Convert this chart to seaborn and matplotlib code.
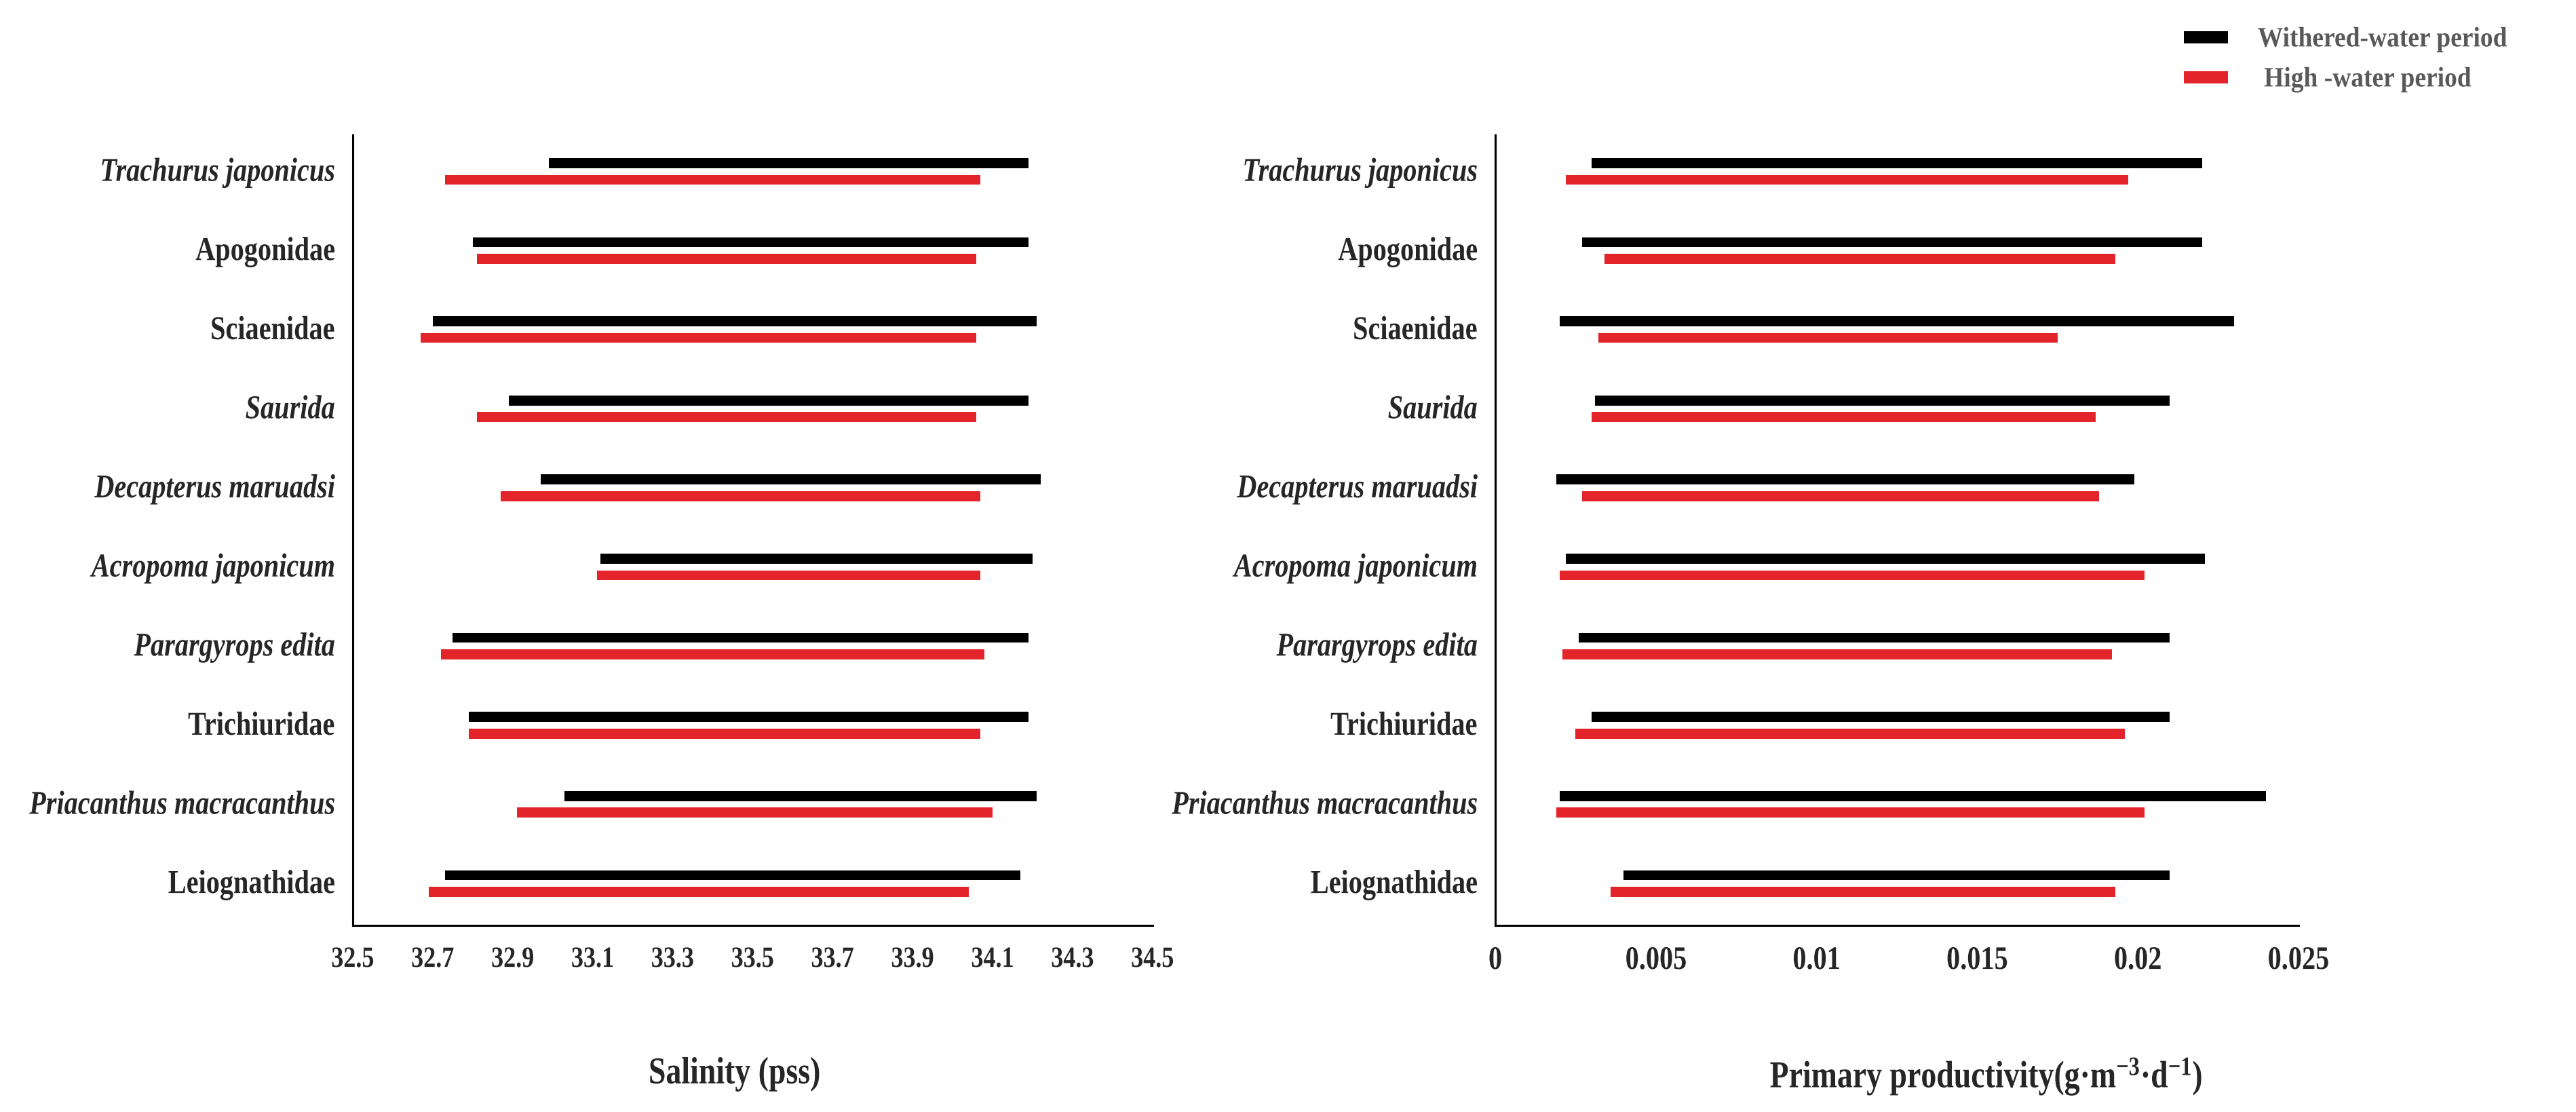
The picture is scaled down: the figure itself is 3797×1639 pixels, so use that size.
import numpy as np
import pandas as pd
import seaborn as sns
import matplotlib.pyplot as plt
from matplotlib.patches import Patch
from matplotlib.patheffects import AbstractPathEffect
from matplotlib.transforms import Affine2D

# species on the y axis, top to bottom
species = ["Trachurus japonicus", "Apogonidae", "Sciaenidae", "Saurida",
           "Decapterus maruadsi", "Acropoma japonicum", "Parargyrops edita",
           "Trichiuridae", "Priacanthus macracanthus", "Leiognathidae"]
italic_names = ["Trachurus japonicus", "Saurida", "Decapterus maruadsi",
                "Acropoma japonicum", "Parargyrops edita", "Priacanthus macracanthus"]
periods = ["Withered-water period", " High -water period"]

# salinity ranges (pss)
sal_dry_lo = [32.99, 32.80, 32.70, 32.89, 32.97, 33.12, 32.75, 32.79, 33.03, 32.73]
sal_dry_hi = [34.19, 34.19, 34.21, 34.19, 34.22, 34.20, 34.19, 34.19, 34.21, 34.17]
sal_wet_lo = [32.73, 32.81, 32.67, 32.81, 32.87, 33.11, 32.72, 32.79, 32.91, 32.69]
sal_wet_hi = [34.07, 34.06, 34.06, 34.06, 34.07, 34.07, 34.08, 34.07, 34.10, 34.04]

# primary productivity ranges (g m-3 d-1)
pp_dry_lo = [0.0030, 0.0027, 0.0020, 0.0031, 0.0019, 0.0022, 0.0026, 0.0030, 0.0020, 0.0040]
pp_dry_hi = [0.0220, 0.0220, 0.0230, 0.0210, 0.0199, 0.0221, 0.0210, 0.0210, 0.0240, 0.0210]
pp_wet_lo = [0.0022, 0.0034, 0.0032, 0.0030, 0.0027, 0.0020, 0.0021, 0.0025, 0.0019, 0.0036]
pp_wet_hi = [0.0197, 0.0193, 0.0175, 0.0187, 0.0188, 0.0202, 0.0192, 0.0196, 0.0202, 0.0193]

sal_ticks = [32.5, 32.7, 32.9, 33.1, 33.3, 33.5, 33.7, 33.9, 34.1, 34.3, 34.5]
pp_ticks = [0, 0.005, 0.01, 0.015, 0.02, 0.025]
pp_ticklabels = ["0", "0.005", "0.01", "0.015", "0.02", "0.025"]

colors = ["#000000", "#e3242b"]

sns.set_theme(style="white")
plt.rcParams['font.family'] = ['Liberation Serif', 'DejaVu Serif']
plt.rcParams['font.weight'] = 'bold'
plt.rcParams['mathtext.fontset'] = 'custom'
plt.rcParams['mathtext.rm'] = 'Liberation Serif:bold'
plt.rcParams['mathtext.it'] = 'Liberation Serif:bold:italic'
plt.rcParams['mathtext.bf'] = 'Liberation Serif:bold'


class Tall(AbstractPathEffect):
    # the original lettering is a tall, narrow Times: stretch glyphs upward
    def __init__(self, sy=1.22):
        super().__init__()
        self.sy = sy

    def draw_path(self, renderer, gc, tpath, affine, rgbFace=None):
        renderer.draw_path(gc, tpath, Affine2D().scale(1, self.sy) + affine, rgbFace)


def make_df(dry_lo, dry_hi, wet_lo, wet_hi):
    df = pd.DataFrame({
        "species": species * 2,
        "period": [periods[0]] * len(species) + [periods[1]] * len(species),
        "lo": list(dry_lo) + list(wet_lo),
        "hi": list(dry_hi) + list(wet_hi),
    })
    return df


def range_bars(ax, df):
    # seaborn places the dodged bars, then each one is trimmed to its range
    sns.barplot(data=df, y="species", x="hi", hue="period", order=species,
                hue_order=periods, palette=colors, width=0.42, gap=0.4,
                errorbar=None, legend=False, ax=ax, saturation=1)
    for i, per in enumerate(periods):
        sub = df[df.period == per].set_index("species").loc[species]
        for bar, lo, hi in zip(ax.containers[i], sub.lo, sub.hi):
            bar.set_x(lo)
            bar.set_width(hi - lo)
            bar.set_linewidth(0)


fig = plt.figure(figsize=(37.98, 16.39), dpi=100)
ax1 = fig.add_axes([0.1369, 0.1678, 0.3104, 0.7108])
ax2 = fig.add_axes([0.5803, 0.1678, 0.3117, 0.7108])

range_bars(ax1, make_df(sal_dry_lo, sal_dry_hi, sal_wet_lo, sal_wet_hi))
range_bars(ax2, make_df(pp_dry_lo, pp_dry_hi, pp_wet_lo, pp_wet_hi))

ax1.set_xlim(32.5, 34.5)
ax1.set_xticks(sal_ticks)
ax1.set_xticklabels([f"{t:.1f}" for t in sal_ticks])
ax2.set_xlim(0, 0.025)
ax2.set_xticks(pp_ticks)
ax2.set_xticklabels(pp_ticklabels)

for ax, tsize in [(ax1, 26), (ax2, 29)]:
    ax.set_ylim(9.53, -0.46)
    sns.despine(ax=ax)
    for s in ["left", "bottom"]:
        ax.spines[s].set_color("black")
        ax.spines[s].set_linewidth(2.2)
    ax.tick_params(axis="x", length=0, pad=26, labelsize=tsize)
    ax.tick_params(axis="y", length=0, pad=19, labelsize=29)
    ax.set_ylabel("")
    for lab in ax.get_xticklabels():
        lab.set_fontweight("bold")
        lab.set_path_effects([Tall(1.2)])
    for lab in ax.get_yticklabels():
        lab.set_fontweight("bold")
        lab.set_path_effects([Tall(1.22)])
        if lab.get_text() in italic_names:
            lab.set_fontstyle("italic")

ax1.set_xlabel("Salinity (pss)", fontsize=33, fontweight="bold")
ax1.xaxis.set_label_coords(0.4775, -0.172)
ax2.set_xlabel(r"Primary productivity(g·m$^{-3}$·d$^{-1}$)", fontsize=33, fontweight="bold")
ax2.xaxis.set_label_coords(0.6115, -0.172)
for ax in (ax1, ax2):
    ax.xaxis.label.set_path_effects([Tall(1.22)])

handles = [Patch(facecolor=c, edgecolor="none") for c in colors]
leg_y = 0.97
leg = fig.legend(handles, periods, loc="upper left", bbox_to_anchor=(3219 / 3798, leg_y),
                 frameon=False, fontsize=27, labelcolor="#595959", handlelength=1.73,
                 handleheight=0.4, handletextpad=1.17, labelspacing=0.64,
                 borderpad=0, borderaxespad=0, prop={"weight": "bold", "size": 27})
for t in leg.get_texts():
    t.set_path_effects([Tall(1.1)])

# nudge the legend so the first key sits about 55 px below the top edge
fig.canvas.draw()
box = leg.legend_handles[0].get_window_extent()
H = fig.bbox.height
shift = (H - 55) - (box.y0 + box.y1) / 2
leg.set_bbox_to_anchor((3219 / 3798, leg_y + shift / H), transform=fig.transFigure)

fig.savefig("out.png", dpi=100, facecolor="white")
